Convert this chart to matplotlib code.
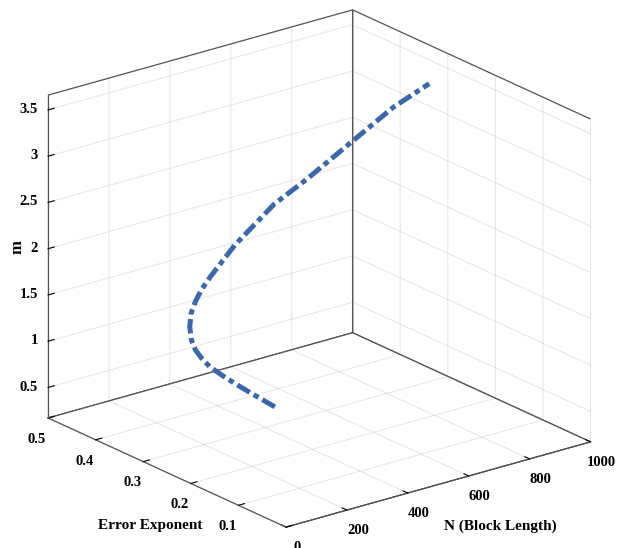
import numpy as np
import matplotlib
matplotlib.use("Agg")
import matplotlib.pyplot as plt
from mpl_toolkits.mplot3d import proj3d

# ---- data ----
N_vals = [512, 422, 357, 306, 259, 225, 198, 177, 162, 157, 163, 176, 198, 228,
          263, 296, 371, 467, 603, 719, 828]
E_vals = [0.351, 0.342, 0.336, 0.331, 0.326, 0.321, 0.317, 0.312, 0.306, 0.300,
          0.295, 0.291, 0.286, 0.281, 0.276, 0.272, 0.2625, 0.255, 0.244, 0.235,
          0.229]
m_vals = [0.17, 0.418, 0.601, 0.751, 0.896, 1.029, 1.154, 1.292, 1.464, 1.627,
          1.758, 1.883, 2.017, 2.163, 2.324, 2.438, 2.699, 2.90, 3.22, 3.49, 3.66]

x_ticks = [0, 200, 400, 600, 800, 1000]
x_labels = ["0", "200", "400", "600", "800", "1000"]
y_ticks = [0, 0.1, 0.2, 0.3, 0.4, 0.5]
y_labels = ["", "0.1", "0.2", "0.3", "0.4", "0.5"]
z_ticks = [0.5, 1, 1.5, 2, 2.5, 3, 3.5]
z_labels = ["0.5", "1", "1.5", "2", "2.5", "3", "3.5"]
x_lim = (0, 1000)
y_lim = (0, 0.5)
z_lim = (0.17, 3.66)

plt.rcParams["font.family"] = ["Liberation Serif", "DejaVu Serif"]
plt.rcParams["font.weight"] = "bold"
# semi-transparent grid so the box edges stay dark where gridlines run over them
plt.rcParams["grid.color"] = (0.45, 0.40, 0.35, 0.17)
plt.rcParams["grid.linewidth"] = 0.7

W, H = 624, 548
fig = plt.figure(figsize=(W / 100, H / 100), dpi=100)
fig.patch.set_facecolor("white")
ax = fig.add_axes([0, 0, 1, 1], projection="3d")
ax.set_proj_type("ortho")
ax.view_init(elev=21, azim=-128)
ax.set_box_aspect((1, 1, 0.895))

ax.plot(N_vals, E_vals, m_vals, color="#3b67ab", linewidth=3.6,
        linestyle=(0, (2.9, 0.9, 1.1, 0.9)), solid_capstyle="butt",
        dash_capstyle="butt", solid_joinstyle="round", dash_joinstyle="round")

ax.set_xlim(*x_lim)
ax.set_ylim(*y_lim)
ax.set_zlim(*z_lim)
ax.set_xticks(x_ticks, x_labels)
ax.set_yticks(y_ticks, y_labels)
ax.set_zticks(z_ticks, z_labels)

edge = "#55514d"
for a in (ax.xaxis, ax.yaxis, ax.zaxis):
    a.set_pane_color((1, 1, 1, 1))
    a.pane.set_alpha(1)
    a.pane.set_edgecolor(edge)
    a.pane.set_linewidth(0.9)
    a.line.set_color(edge)
    a.line.set_linewidth(0.9)
    a._axinfo["tick"]["color"] = edge
    a._axinfo["tick"]["linewidth"] = {True: 0.8, False: 0.6}
    a._axinfo["tick"]["inward_factor"] = 0.0
    a._axinfo["tick"]["outward_factor"] = 0.25
ax.grid(True)
ax.tick_params(axis="both", labelsize=10.5, colors="black")
ax.xaxis.set_tick_params(pad=3.0)
ax.yaxis.set_tick_params(pad=0.5)
ax.zaxis.set_tick_params(pad=-3.5)
for lab in ax.get_xticklabels():
    lab.set_fontweight("bold")
    lab.set_ha("center")
    lab.set_va("center")
for lab in ax.get_yticklabels():
    lab.set_fontweight("bold")
for lab in ax.get_zticklabels():
    lab.set_fontweight("bold")
    lab.set_ha("right")
    lab.set_va("center")
ax.set_xlabel("")
ax.set_ylabel("")
ax.set_zlabel("")

# ---- fit the projected box into place in the figure ----
targets = [
    ((0, 0.5, z_lim[1]), (48.3, H - 95.7)),
    ((0, 0, z_lim[0]), (286.0, H - 527.3)),
    ((1000, 0, z_lim[0]), (590.7, H - 441.7)),
    ((1000, 0.5, z_lim[1]), (352.3, H - 10.0)),
    ((0, 0.5, z_lim[0]), (48.0, H - 418.0)),
    ((1000, 0, z_lim[1]), (590.5, H - 118.3)),
]
for _ in range(3):
    fig.canvas.draw()
    M = ax.get_proj()
    pos = ax.get_position()
    S0 = pos.width * W
    C0 = np.array([(pos.x0 + pos.width / 2) * W, (pos.y0 + pos.height / 2) * H])
    qs, ts = [], []
    for (x, y, z), t in targets:
        xs, ys, _ = proj3d.proj_transform(np.array([x]), np.array([y]), np.array([z]), M)
        p = ax.transData.transform(np.column_stack([xs, ys]))[0]
        qs.append((p - C0) / S0)
        ts.append(t)
    qs = np.array(qs)
    ts = np.array(ts)
    qm, tm = qs.mean(0), ts.mean(0)
    S = ((qs - qm) * (ts - tm)).sum() / ((qs - qm) ** 2).sum()
    C = tm - S * qm
    ax.set_position([(C[0] - S / 2) / W, (C[1] - S / 2) / H, S / W, S / H])

fig.text(18 / W, 1 - 247 / H, "m", rotation=90, ha="center", va="center",
         fontsize=12, fontweight="bold")
fig.text(150 / W, 1 - 526 / H, "Error Exponent", ha="center", va="center",
         fontsize=11, fontweight="bold")
fig.text(500 / W, 1 - 526 / H, "N (Block Length)", ha="center", va="center",
         fontsize=11, fontweight="bold")

fig.savefig("out.png", dpi=100, facecolor="white")
